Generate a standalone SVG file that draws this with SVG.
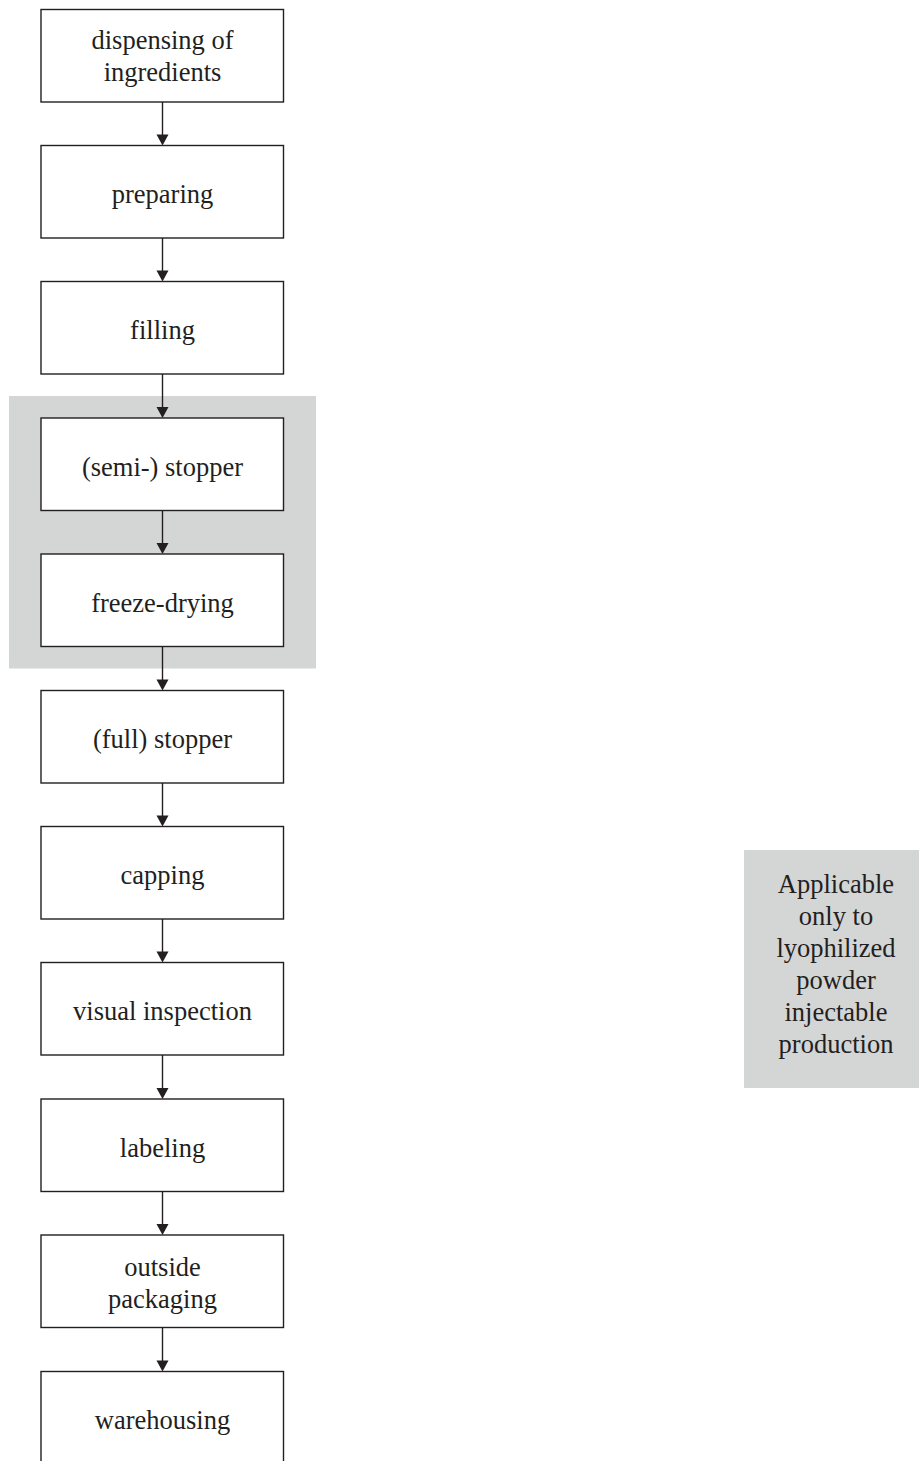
<svg xmlns="http://www.w3.org/2000/svg" width="919" height="1461" viewBox="0 0 919 1461">
<style>
.box{fill:#fff;stroke:#231f20;stroke-width:1.4}
.bg{fill:#d4d5d5}
.t{font-family:"Liberation Serif","Times New Roman",serif;font-size:26.5px;fill:#231f20;text-anchor:middle}
.c{stroke:#231f20;stroke-width:1.4;fill:none}
.h{fill:#231f20}
</style>
<rect id="lyo-region" class="bg" x="9" y="396" width="307" height="272.5"/>
<g id="note">
<rect class="bg" x="744" y="850" width="180" height="238"/>
<text class="t" x="836" y="893">Applicable</text>
<text class="t" x="836" y="925">only to</text>
<text class="t" x="836" y="957">lyophilized</text>
<text class="t" x="836" y="989">powder</text>
<text class="t" x="836" y="1021">injectable</text>
<text class="t" x="836" y="1053">production</text>
</g>
<g id="connectors">
<line class="c" x1="162.5" y1="102" x2="162.5" y2="135"/><polygon class="h" points="156.5,134.5 168.5,134.5 162.5,145.5"/>
<line class="c" x1="162.5" y1="238" x2="162.5" y2="271"/><polygon class="h" points="156.5,270.5 168.5,270.5 162.5,281.5"/>
<line class="c" x1="162.5" y1="374" x2="162.5" y2="408"/><polygon class="h" points="156.5,407 168.5,407 162.5,418"/>
<line class="c" x1="162.5" y1="510.5" x2="162.5" y2="544"/><polygon class="h" points="156.5,543 168.5,543 162.5,554"/>
<line class="c" x1="162.5" y1="646.5" x2="162.5" y2="680"/><polygon class="h" points="156.5,679.5 168.5,679.5 162.5,690.5"/>
<line class="c" x1="162.5" y1="783" x2="162.5" y2="816"/><polygon class="h" points="156.5,815.5 168.5,815.5 162.5,826.5"/>
<line class="c" x1="162.5" y1="919" x2="162.5" y2="952"/><polygon class="h" points="156.5,951.5 168.5,951.5 162.5,962.5"/>
<line class="c" x1="162.5" y1="1055" x2="162.5" y2="1088"/><polygon class="h" points="156.5,1088 168.5,1088 162.5,1099"/>
<line class="c" x1="162.5" y1="1191.5" x2="162.5" y2="1224"/><polygon class="h" points="156.5,1224 168.5,1224 162.5,1235"/>
<line class="c" x1="162.5" y1="1327.5" x2="162.5" y2="1361"/><polygon class="h" points="156.5,1360.5 168.5,1360.5 162.5,1371.5"/>
</g>
<g id="n1"><rect class="box" x="41" y="9.5" width="242.5" height="92.5"/><text class="t" x="162.5" y="49">dispensing of</text><text class="t" x="162.5" y="81">ingredients</text></g>
<g id="n2"><rect class="box" x="41" y="145.5" width="242.5" height="92.5"/><text class="t" x="162.5" y="203">preparing</text></g>
<g id="n3"><rect class="box" x="41" y="281.5" width="242.5" height="92.5"/><text class="t" x="162.5" y="339">filling</text></g>
<g id="n4"><rect class="box" x="41" y="418" width="242.5" height="92.5"/><text class="t" x="162.5" y="475.5">(semi-) stopper</text></g>
<g id="n5"><rect class="box" x="41" y="554" width="242.5" height="92.5"/><text class="t" x="162.5" y="611.5">freeze-drying</text></g>
<g id="n6"><rect class="box" x="41" y="690.5" width="242.5" height="92.5"/><text class="t" x="162.5" y="748">(full) stopper</text></g>
<g id="n7"><rect class="box" x="41" y="826.5" width="242.5" height="92.5"/><text class="t" x="162.5" y="884">capping</text></g>
<g id="n8"><rect class="box" x="41" y="962.5" width="242.5" height="92.5"/><text class="t" x="162.5" y="1020">visual inspection</text></g>
<g id="n9"><rect class="box" x="41" y="1099" width="242.5" height="92.5"/><text class="t" x="162.5" y="1156.5">labeling</text></g>
<g id="n10"><rect class="box" x="41" y="1235" width="242.5" height="92.5"/><text class="t" x="162.5" y="1275.5">outside</text><text class="t" x="162.5" y="1307.5">packaging</text></g>
<g id="n11"><rect class="box" x="41" y="1371.5" width="242.5" height="92.5"/><text class="t" x="162.5" y="1429">warehousing</text></g>
</svg>
